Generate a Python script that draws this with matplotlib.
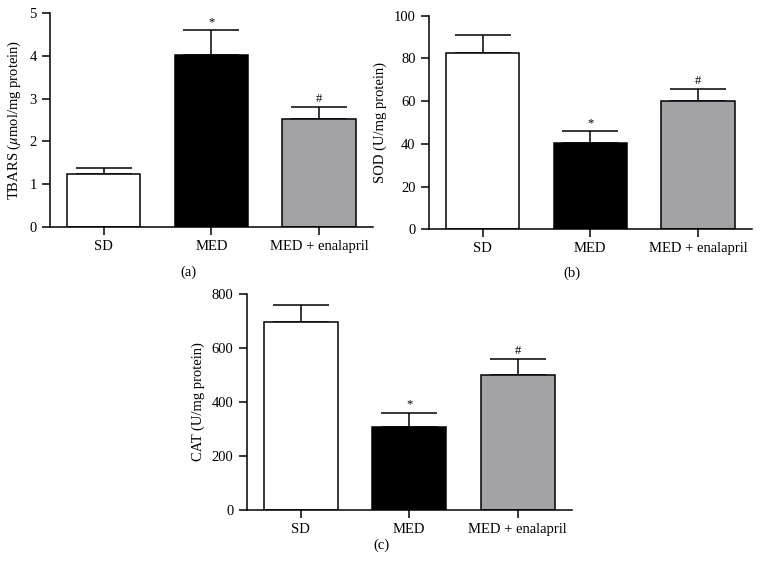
import matplotlib
matplotlib.use("Agg")
import matplotlib.pyplot as plt

plt.rcParams['font.family'] = ['Liberation Serif', 'DejaVu Serif']
plt.rcParams['mathtext.fontset'] = 'stix'
plt.rcParams['font.size'] = 10.5

groups = ["SD", "MED", "MED + enalapril"]
bar_colors = ["white", "black", "#a3a2a7"]

tbars_mean = [1.23, 4.03, 2.52]
tbars_err = [0.15, 0.57, 0.29]
sod_mean = [82.6, 40.4, 60.2]
sod_err = [8.6, 5.5, 5.3]
cat_mean = [698, 307, 499]
cat_err = [63, 53, 61]
marks = ["", "*", "#"]


def draw_panel(ax, means, errs, ylabel, ymax, ystep, tag, tag_xy):
	x = range(len(groups))
	ax.bar(x, means, width = 0.68, color = bar_colors, edgecolor = "black", linewidth = 1.1, zorder = 2)
	for i in x:
		ax.errorbar(i, means[i], yerr = [[0], [errs[i]]], fmt = "none", ecolor = "black",
			elinewidth = 1.1, capsize = 20, capthick = 1.1, zorder = 1)
		if marks[i]:
			ax.annotate(marks[i], (i, means[i] + errs[i]), xytext = (0, 1.5), textcoords = "offset points",
				ha = "center", va = "bottom", fontsize = 9)
	ax.set_xlim(-0.5, 2.5)
	ax.set_ylim(0, ymax)
	ax.set_yticks([v * ystep for v in range(int(round(ymax / ystep)) + 1)])
	ax.set_xticks(list(x))
	ax.set_xticklabels(groups)
	ax.set_ylabel(ylabel, labelpad = 5)
	for s in ["top", "right"]:
		ax.spines[s].set_visible(False)
	for s in ["left", "bottom"]:
		ax.spines[s].set_linewidth(1.1)
	ax.tick_params(direction = "out", length = 5.5, width = 1.1, pad = 4)
	ax.figure.text(tag_xy[0], tag_xy[1], tag, ha = "center", va = "center", fontsize = 10.5)


fig = plt.figure(figsize = (7.65, 5.67), dpi = 100)
ax_a = fig.add_axes([0.0654, 0.6002, 0.422, 0.3763])
ax_b = fig.add_axes([0.5604, 0.5956, 0.4226, 0.3767])
ax_c = fig.add_axes([0.3225, 0.101, 0.4252, 0.380])

draw_panel(ax_a, tbars_mean, tbars_err, r"TBARS ($\mu$mol/mg protein)", 5, 1, "(a)", (188 / 765, 1 - 272 / 567))
draw_panel(ax_b, sod_mean, sod_err, "SOD (U/mg protein)", 100, 20, "(b)", (572 / 765, 1 - 273 / 567))
draw_panel(ax_c, cat_mean, cat_err, "CAT (U/mg protein)", 800, 200, "(c)", (381 / 765, 1 - 545 / 567))

plt.savefig("out.png", dpi = 100)
